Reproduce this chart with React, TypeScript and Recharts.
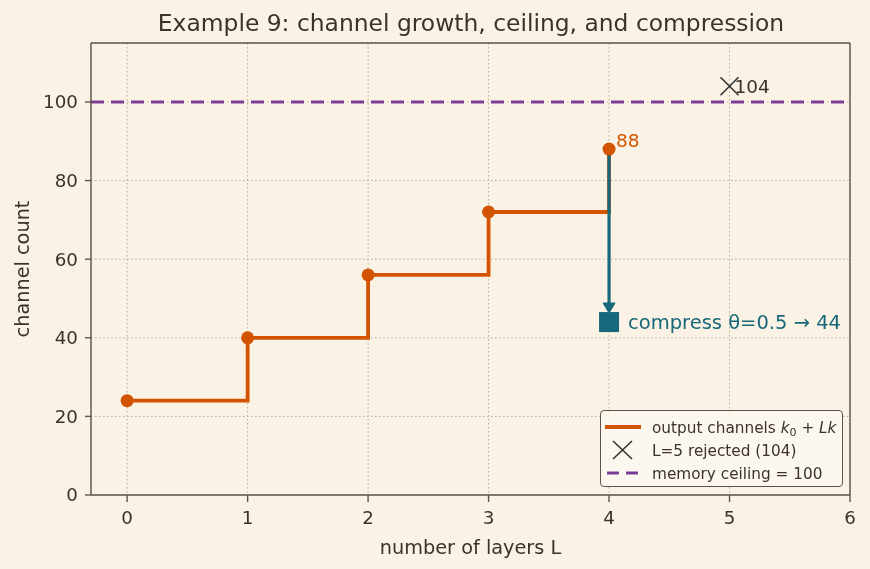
import React from 'react';
import { ComposedChart, Line, Scatter, XAxis, YAxis, CartesianGrid, ReferenceLine, Label } from 'recharts';

const layers = [0, 1, 2, 3, 4];
const channels = [24, 40, 56, 72, 88];
const xTicks = [0, 1, 2, 3, 4, 5, 6];
const yTicks = [0, 20, 40, 60, 80, 100];
const ceiling = 100;
const rejected = [{ x: 5, y: 104 }];
const compressFrom = 88;
const compressTo = 44;
const compressLayer = 4;
const arrowTip = 46.3;

const stepData = layers.map((l, i) => ({ x: l, y: channels[i] }));
const arrowLine = [{ x: compressLayer, y: compressFrom }, { x: compressLayer, y: arrowTip + 1.8 }];
const arrowHead = [{ x: compressLayer, y: arrowTip }];
const compressPt = [{ x: compressLayer, y: compressTo }];
const topLabel = [{ x: compressLayer, y: compressFrom }];

const BG = '#faf2e4';
const TEXT = '#3b322c';
const ORANGE = '#d35400';
const PURPLE = '#7d3c98';
const TEAL = '#17687a';
const FRAME = '#5e544b';
const FONT = 'DejaVu Sans, sans-serif';

const XShape = (p: any) => {
  const { cx, cy } = p;
  const s = 9;
  return (
    <g>
      <path d={`M${cx - s},${cy - s}L${cx + s},${cy + s}M${cx - s},${cy + s}L${cx + s},${cy - s}`} stroke="#333" strokeWidth={1.6} fill="none" />
      <text x={cx + 5} y={cy + 7} fontSize={18.5} fill={TEXT} fontFamily={FONT}>{String(rejected[0].y)}</text>
    </g>
  );
};

const SquareShape = (p: any) => {
  const { cx, cy } = p;
  return (
    <g>
      <rect x={cx - 10} y={cy - 10} width={20} height={20} fill={TEAL} />
      <text x={cx + 19} y={cy + 7} fontSize={19.5} fill={TEAL} fontFamily={FONT}>{`compress θ=0.5 → ${compressTo}`}</text>
    </g>
  );
};

const HeadShape = (p: any) => {
  const { cx, cy } = p;
  return <path d={`M${cx},${cy}L${cx - 6},${cy - 10}L${cx + 6},${cy - 10}Z`} fill={TEAL} stroke={TEAL} strokeWidth={1} />;
};

const TopLabelShape = (p: any) => {
  const { cx, cy } = p;
  return <text x={cx + 7} y={cy - 2} fontSize={18.5} fill={ORANGE} fontFamily={FONT}>{String(compressFrom)}</text>;
};

const LegendBox = () => (
  <div style={{ position: 'absolute', left: 600, top: 410, width: 243, height: 77, boxSizing: 'border-box', background: 'rgba(253,248,240,0.9)', border: `1.3px solid ${FRAME}`, borderRadius: 4 }}>
    <svg width={241} height={75} style={{ position: 'absolute', left: -1, top: -1 }}>
      <line x1={5} y1={17} x2={41} y2={17} stroke={ORANGE} strokeWidth={3.8} />
      <text x={52} y={22.5} fontSize={15.3} fill={TEXT} fontFamily={FONT}>
        output channels <tspan fontStyle="italic">k</tspan><tspan fontSize={11} dy={3}>0</tspan><tspan dy={-3}> + </tspan><tspan fontStyle="italic">Lk</tspan>
      </text>
      <path d="M13,31L32,49M13,49L32,31" stroke="#333" strokeWidth={1.6} />
      <text x={52} y={45.5} fontSize={15.3} fill={TEXT} fontFamily={FONT}>L=5 rejected (104)</text>
      <line x1={7} y1={63} x2={41} y2={63} stroke={PURPLE} strokeWidth={3.2} strokeDasharray="12 7" />
      <text x={52} y={68.5} fontSize={15.3} fill={TEXT} fontFamily={FONT}>memory ceiling = 100</text>
    </svg>
  </div>
);

export default function App() {
  return (
    <div style={{ position: 'fixed', left: 0, top: 0, width: 870, height: 569, background: BG }}>
      <div style={{ position: 'absolute', left: 0, top: 9, width: 942, textAlign: 'center', fontFamily: FONT, fontSize: 23.4, lineHeight: '28px', color: TEXT }}>
        Example 9: channel growth, ceiling, and compression
      </div>
      <ComposedChart width={870} height={569} margin={{ top: 43, right: 20, bottom: 44, left: 31 }} style={{ position: 'absolute', left: 0, top: 0 }}>
        <CartesianGrid stroke="#b5aa9c" strokeDasharray="1.5 2.5" strokeWidth={1} />
        <XAxis type="number" dataKey="x" domain={[-0.3, 6]} ticks={xTicks} allowDataOverflow
          stroke={FRAME} strokeWidth={1.4} tickSize={7} tickMargin={9} tick={{ fill: TEXT, fontSize: 18.3, fontFamily: FONT }} height={30}>
          <Label value="number of layers L" position="insideBottom" offset={-29} fill={TEXT} fontSize={19.3} fontFamily={FONT} />
        </XAxis>
        <YAxis type="number" domain={[0, 115]} ticks={yTicks} allowDataOverflow
          stroke={FRAME} strokeWidth={1.4} tickSize={6} tickMargin={7} tick={{ fill: TEXT, fontSize: 18.3, fontFamily: FONT }} width={60}>
          <Label value="channel count" angle={-90} position="insideLeft" offset={-9} fill={TEXT} fontSize={19.3} fontFamily={FONT} style={{ textAnchor: 'middle' }} />
        </YAxis>
        <ReferenceLine y={115} stroke={FRAME} strokeWidth={1.4} />
        <ReferenceLine x={6} stroke={FRAME} strokeWidth={1.4} />
        <ReferenceLine y={ceiling} stroke={PURPLE} strokeWidth={3} strokeDasharray="13 7" />
        <Line data={stepData} dataKey="y" type="stepAfter" stroke={ORANGE} strokeWidth={3.8}
          dot={{ r: 6.5, fill: ORANGE, stroke: ORANGE, strokeWidth: 0 }} activeDot={false} isAnimationActive={false} />
        <Line data={arrowLine} dataKey="y" type="linear" stroke={TEAL} strokeWidth={3.2} dot={false} activeDot={false} isAnimationActive={false} />
        <Scatter data={arrowHead} dataKey="y" shape={HeadShape} isAnimationActive={false} />
        <Scatter data={compressPt} dataKey="y" shape={SquareShape} isAnimationActive={false} />
        <Scatter data={rejected} dataKey="y" shape={XShape} isAnimationActive={false} />
        <Scatter data={topLabel} dataKey="y" shape={TopLabelShape} isAnimationActive={false} />
      </ComposedChart>
      <LegendBox />
    </div>
  );
}
